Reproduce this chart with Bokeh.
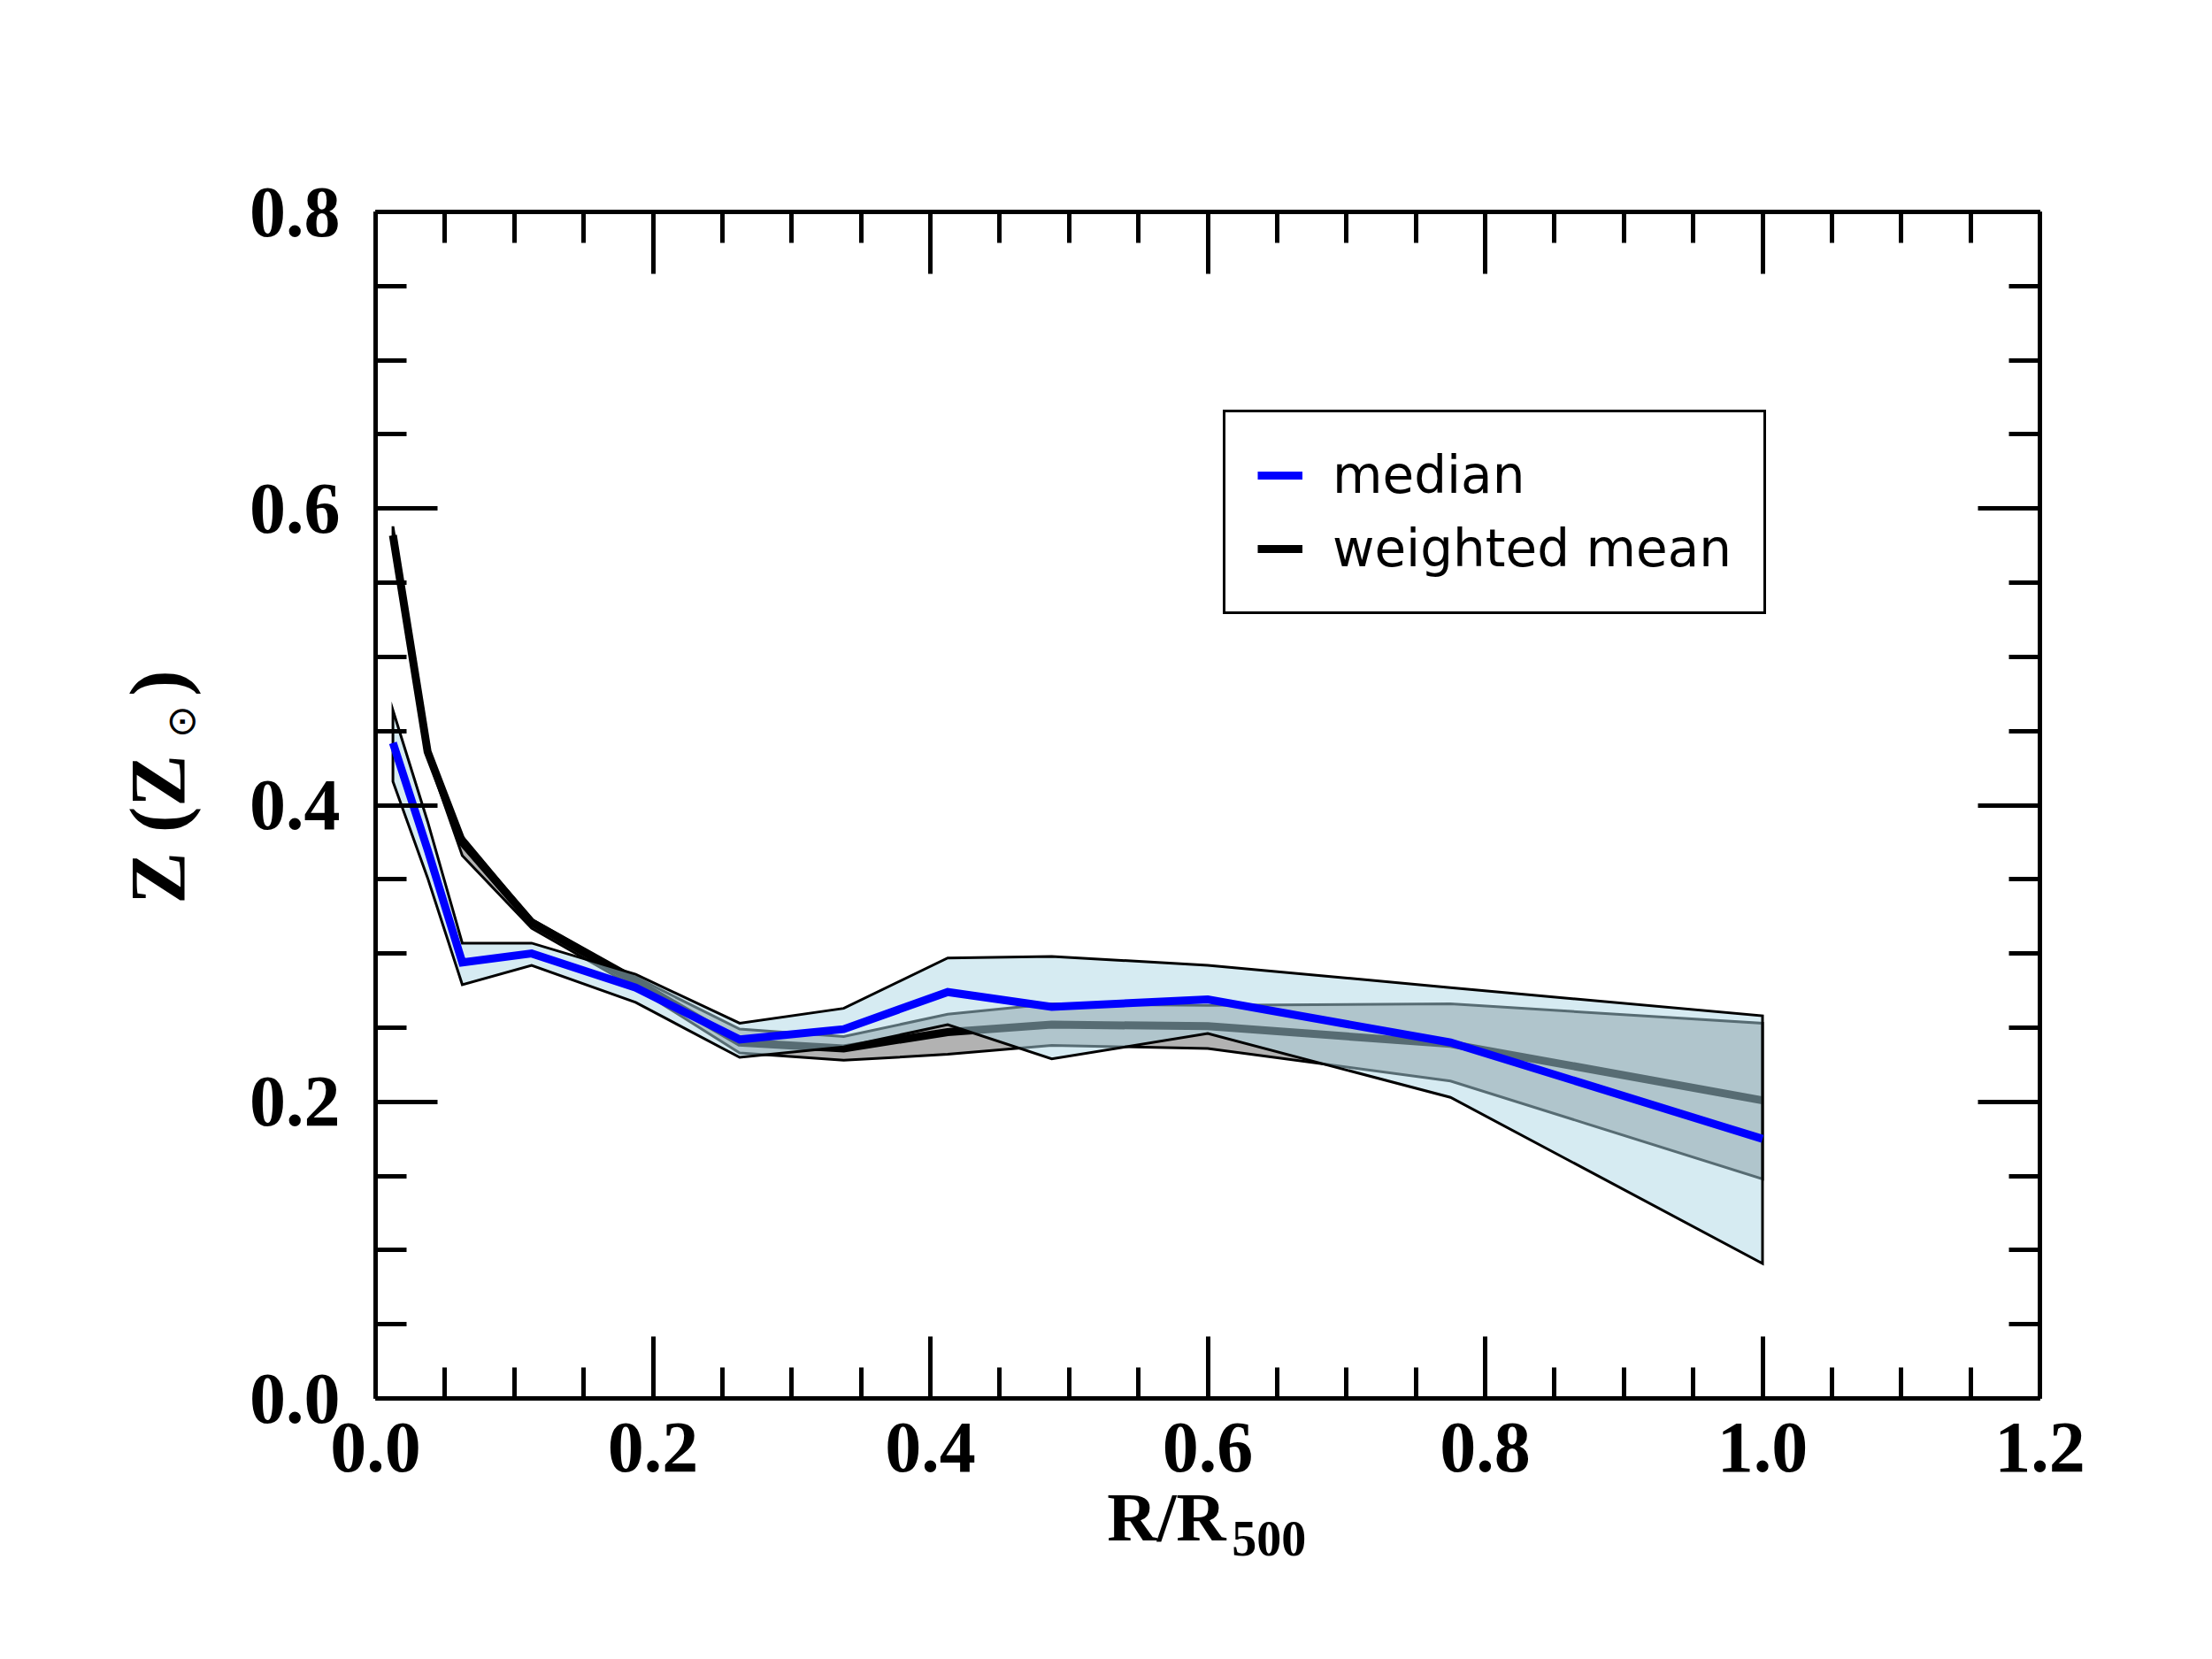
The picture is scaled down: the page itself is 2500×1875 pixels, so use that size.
import math
from bokeh.plotting import figure
from bokeh.models import (Range1d, LinearAxis, FixedTicker, CustomJSTickFormatter,
                          Legend, LegendItem, Label)
from bokeh.embed import file_html
from bokeh.resources import INLINE

# ---------------- data ----------------
r_bins = [0.0125, 0.0375, 0.0625, 0.1125, 0.1875, 0.2625, 0.3375, 0.4125, 0.4875, 0.6, 0.775, 1.0]

median = [0.442, 0.370, 0.294, 0.300, 0.277, 0.242, 0.249, 0.274, 0.264, 0.269, 0.240, 0.175]
median_hi = [0.464, 0.389, 0.307, 0.307, 0.286, 0.253, 0.263, 0.297, 0.298, 0.292, 0.277, 0.258]
median_lo = [0.416, 0.351, 0.279, 0.292, 0.267, 0.230, 0.237, 0.252, 0.229, 0.246, 0.203, 0.091]

wmean = [0.582, 0.436, 0.375, 0.321, 0.281, 0.240, 0.236, 0.247, 0.252, 0.251, 0.239, 0.201]
wmean_hi = [0.588, 0.438, 0.379, 0.323, 0.284, 0.249, 0.244, 0.259, 0.266, 0.265, 0.266, 0.253]
wmean_lo = [0.578, 0.433, 0.366, 0.317, 0.277, 0.233, 0.228, 0.232, 0.238, 0.236, 0.214, 0.148]

x_ticks = [0.0, 0.2, 0.4, 0.6, 0.8, 1.0, 1.2]
x_tick_labels = ["0.0", "0.2", "0.4", "0.6", "0.8", "1.0", "1.2"]
x_minor = [round(i * 0.05, 2) for i in range(25)]
y_ticks = [0.0, 0.2, 0.4, 0.6, 0.8]
y_tick_labels = ["0.0", "0.2", "0.4", "0.6", "0.8"]
y_minor = [round(i * 0.05, 2) for i in range(17)]

series_labels = ["median", "weighted mean"]

# ---------------- figure ----------------
p = figure(width=2484, height=1859, output_backend="svg", toolbar_location=None,
           x_range=Range1d(0, 1.2), y_range=Range1d(0, 0.8),
           min_border_left=424, min_border_right=179,
           min_border_top=239, min_border_bottom=279)
p.grid.visible = False
p.outline_line_color = None
p.background_fill_color = "white"
p.border_fill_color = "white"

SERIF = "Liberation Serif"


def fmt(tv, tl):
    return CustomJSTickFormatter(args=dict(tv=tv, tl=tl), code="""
        for (let i = 0; i < tv.length; i++) {
            if (Math.abs(tv[i] - tick) < 1e-9) { return tl[i]; }
        }
        return '';
    """)


def style_axis(ax, ticks, minor, labels=None):
    ax.ticker = FixedTicker(ticks=ticks, minor_ticks=minor)
    ax.axis_line_width = 5
    ax.axis_line_color = "black"
    ax.major_tick_in = 70
    ax.major_tick_out = 0
    ax.minor_tick_in = 35
    ax.minor_tick_out = 0
    ax.major_tick_line_width = 5
    ax.minor_tick_line_width = 5
    ax.major_tick_line_color = "black"
    ax.minor_tick_line_color = "black"
    if labels is not None:
        ax.formatter = fmt(ticks, labels)
        ax.major_label_text_font = SERIF
        ax.major_label_text_font_style = "bold"
        ax.major_label_text_font_size = "82px"
        ax.major_label_text_color = "black"
    else:
        ax.formatter = CustomJSTickFormatter(code="return '';")
        ax.major_label_text_font_size = "1px"
        ax.major_label_standoff = 0


style_axis(p.xaxis[0], x_ticks, x_minor, x_tick_labels)
p.xaxis[0].major_label_standoff = 28
style_axis(p.yaxis[0], y_ticks, y_minor, y_tick_labels)
p.yaxis[0].major_label_standoff = 40

top_ax = LinearAxis()
style_axis(top_ax, x_ticks, x_minor)
p.add_layout(top_ax, "above")
right_ax = LinearAxis()
style_axis(right_ax, y_ticks, y_minor)
p.add_layout(right_ax, "right")

# ---------------- bands and lines ----------------
wm_poly_x = r_bins + r_bins[::-1]
wm_poly_y = wmean_hi + wmean_lo[::-1]
p.patch(wm_poly_x, wm_poly_y, fill_color="black", fill_alpha=0.3,
        line_color="black", line_width=3, line_join="miter")

r_wm = p.line(r_bins, wmean, line_color="black", line_width=9, line_join="miter")

md_poly_x = r_bins + r_bins[::-1]
md_poly_y = median_hi + median_lo[::-1]
p.patch(md_poly_x, md_poly_y, fill_color="#add8e6", fill_alpha=0.5,
        line_color="black", line_width=3, line_join="miter")

r_md = p.line(r_bins, median, line_color="#0000ff", line_width=9, line_join="miter")

# ---------------- legend ----------------
legend = Legend(items=[LegendItem(label=series_labels[0], renderers=[r_md]),
                       LegendItem(label=series_labels[1], renderers=[r_wm])],
                location=(958, 886))
legend.label_text_font = "DejaVu Sans"
legend.label_text_font_size = "58px"
legend.label_text_color = "black"
legend.glyph_width = 51
legend.glyph_height = 70
legend.label_height = 70
legend.label_standoff = 34
legend.padding = 36
legend.spacing = 13
legend.margin = 0
legend.border_line_color = "black"
legend.border_line_width = 3
legend.border_line_alpha = 1.0
legend.background_fill_color = "white"
legend.background_fill_alpha = 1.0
p.add_layout(legend)

# ---------------- axis titles (side panels, so they are not clipped) ----------------
p.add_layout(Label(x=0.5275, y=-0.0799, text="R/R", text_align="left",
                   text_baseline="alphabetic", text_font=SERIF,
                   text_font_style="bold", text_font_size="78px", text_color="black"), "below")
p.add_layout(Label(x=0.6174, y=-0.0948, text="500", text_align="left",
                   text_baseline="alphabetic", text_font=SERIF,
                   text_font_style="bold", text_font_size="56px", text_color="black"), "above")

p.add_layout(Label(x=-0.157, y=0.3333, text="Z (Z", angle=math.pi / 2,
                   text_align="left", text_baseline="alphabetic", text_font=SERIF,
                   text_font_style="bold", text_font_size="88px", text_color="black"), "left")
p.add_layout(Label(x=-0.1405, y=0.4454, text="\u2299", angle=math.pi / 2,
                   text_align="left", text_baseline="alphabetic", text_font="DejaVu Sans",
                   text_font_size="44px", text_color="black"), "right")
p.add_layout(Label(x=-0.157, y=0.4735, text=")", angle=math.pi / 2,
                   text_align="left", text_baseline="alphabetic", text_font=SERIF,
                   text_font_style="bold", text_font_size="88px", text_color="black"), "above")

open("out.html", "w").write(file_html(p, INLINE))
